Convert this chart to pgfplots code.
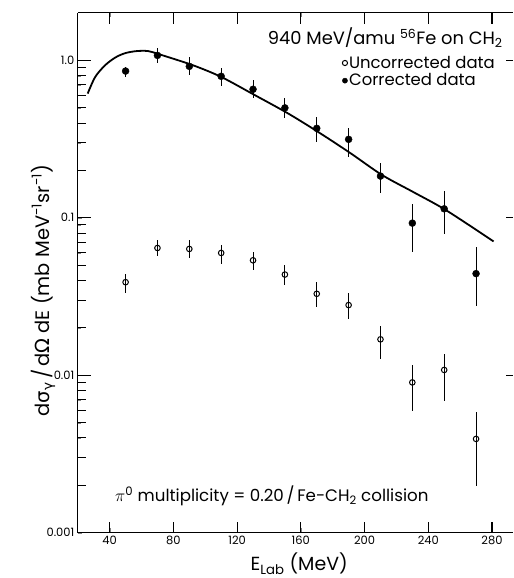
\documentclass[border=0pt]{standalone}
\usepackage{fontspec}
\setmainfont{Poppins}
\newfontfamily\greek{DejaVu Sans}
\usepackage{pgfplots}
\usepackage{pgfplotstable}
\pgfplotsset{compat=1.18}
\usetikzlibrary{calc}

% E (MeV), value, error plus, error minus
\pgfplotstableread{
E    y       ep       em
50   0.0390  0.0052   0.0059
70   0.0643  0.0084   0.0074
90   0.0634  0.0085   0.0077
110  0.0598  0.0077   0.0086
130  0.0537  0.0073   0.0073
150  0.0436  0.0069   0.0064
170  0.0329  0.0061   0.0057
190  0.0279  0.0054   0.0051
210  0.0169  0.0036   0.0042
230  0.0090  0.0026   0.0031
250  0.0108  0.0029   0.0039
270  0.00394 0.00187  0.00197
}\uncorrected

\pgfplotstableread{
E    y       ep       em
50   0.855   0.048    0.075
70   1.075   0.116    0.118
90   0.916   0.129    0.112
110  0.792   0.098    0.107
130  0.655   0.092    0.080
150  0.499   0.076    0.069
170  0.370   0.066    0.067
190  0.315   0.056    0.072
210  0.184   0.039    0.040
230  0.0925  0.030    0.0323
250  0.114   0.034    0.035
270  0.0442  0.0214   0.0165
}\corrected

\pgfplotstableread{
E     y
26.2  0.615
30.9  0.784
37.1  0.930
43.4  1.04
49.6  1.11
56.9  1.145
64.2  1.145
71.5  1.09
92.4  0.93
110   0.785
130   0.61
152   0.46
172   0.345
191   0.258
211   0.187
231   0.145
251   0.112
281   0.0708
}\fitcurve

\begin{document}
\begin{tikzpicture}
\begin{axis}[
    scale only axis,
    width=436pt, height=521pt,
    clip=false,
    ymode=log,
    xmin=20, xmax=293,
    ymin=0.001, ymax=2,
    axis x line=box,
    axis y line=left,
    y axis line style={-},
    axis line style={line width=1pt},
    tick align=inside,
    xtick={40,80,...,280},
    ytick={0.001,0.01,0.1,1},
    yticklabels={0.001,0.01,0.1,1.0},
    /pgf/number format/assume math mode=true,
    tick label style={font=\fontsize{11.5}{13}\selectfont},
    xlabel={E\textsubscript{Lab} (MeV)},
    xlabel style={at={(axis description cs:0.509,-0.060)}, anchor=center,
        font=\fontsize{19}{22}\selectfont},
    ylabel={d{\greek σ}\textsubscript{{\greek γ}}\,/\,d{\greek Ω} dE (mb MeV\textsuperscript{-1}sr\textsuperscript{-1})},
    ylabel style={at={(axis description cs:-0.080,0.466)}, anchor=center,
        font=\fontsize{19.5}{22}\selectfont},
    legend style={draw=none, fill=none, at={(rel axis cs:0.601,0.924)},
        anchor=north west,
        nodes={font=\fontsize{16.5}{18}\selectfont, inner sep=1.5pt},
        row sep=1pt},
    legend cell align=left,
    legend image post style={mark size=2.6pt},
]

\addplot[smooth, no markers, line width=1.8pt, forget plot] table[x=E, y=y] {\fitcurve};

\addplot[only marks, mark=o, mark size=2.8pt, mark options={fill=white, line width=1pt},
    error bars/.cd, y dir=both, y explicit, error mark=none,
    error bar style={line width=1pt}]
    table[x=E, y=y, y error plus=ep, y error minus=em] {\uncorrected};

\addplot[only marks, mark=*, mark size=3.5pt,
    error bars/.cd, y dir=both, y explicit, error mark=none,
    error bar style={line width=1pt}]
    table[x=E, y=y, y error plus=ep, y error minus=em] {\corrected};

\legend{Uncorrected data, Corrected data}

% tick marks, drawn inward from the frame
\pgfplotsinvokeforeach{40,80,120,160,200,240,280}{
  \draw[line width=1.2pt] (axis cs:#1,0.001) -- ++(0pt,11pt);
  \draw[line width=1.2pt] (axis cs:#1,2) -- ++(0pt,-11pt);
}
\pgfplotsinvokeforeach{0.001,0.01,0.1,1}{
  \draw[line width=1.2pt] (axis cs:20,#1) -- ++(13pt,0pt);
  \draw[line width=1pt] (axis cs:293,#1) -- ++(-7pt,0pt);
}
\pgfplotsinvokeforeach{0.002,0.003,0.004,0.005,0.006,0.007,0.008,0.009,
    0.02,0.03,0.04,0.05,0.06,0.07,0.08,0.09,
    0.2,0.3,0.4,0.5,0.6,0.7,0.8,0.9}{
  \draw[line width=1pt] (axis cs:20,#1) -- ++(8pt,0pt);
}

\node[anchor=east, font=\fontsize{17.9}{21}\selectfont] at (rel axis cs:0.985,0.952)
    {940 MeV/amu \textsuperscript{56}Fe on CH\textsubscript{2}};
\node[anchor=west, font=\fontsize{16.7}{20}\selectfont] at (rel axis cs:0.078,0.071)
    {$\pi$\textsuperscript{0} multiplicity = 0.20\,/\,Fe-CH\textsubscript{2} collision};
\end{axis}
\path ($(current axis.south west)+(-78pt,-44pt)$) rectangle ($(current axis.north east)+(1pt,13pt)$);
\end{tikzpicture}
\end{document}
